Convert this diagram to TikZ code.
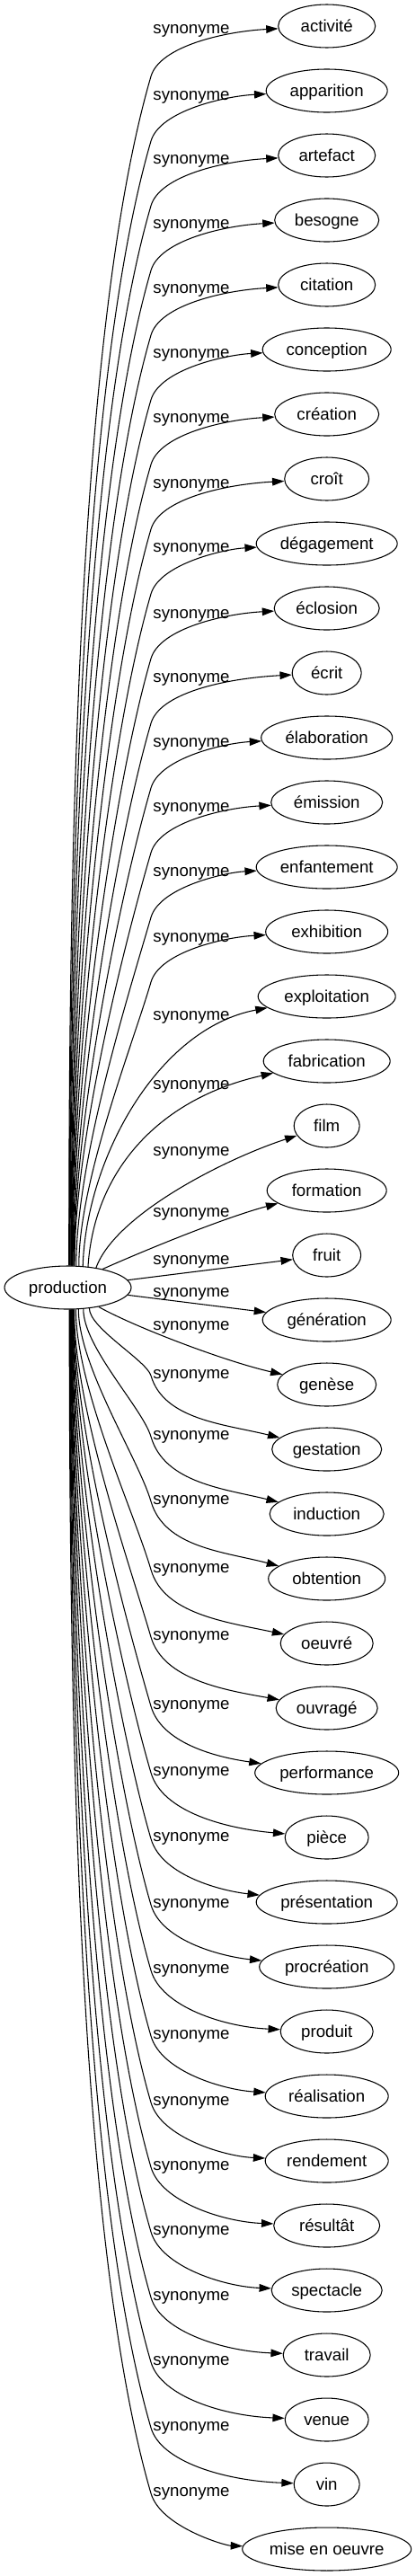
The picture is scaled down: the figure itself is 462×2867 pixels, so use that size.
\documentclass[tikz,border=0pt]{standalone}
\usepackage{fontspec}
\setmainfont{Liberation Sans}
\usetikzlibrary{arrows.meta,shapes.geometric}
\begin{document}
\begin{tikzpicture}[x=0.75pt,y=-0.75pt,
  tnode/.style={draw, ellipse, line width=0.8pt, inner sep=0pt, minimum height=36pt,
    text height=10pt, text depth=1pt, font=\fontsize{14}{16}\selectfont},
  lbl/.style={anchor=base, inner sep=0pt, font=\fontsize{14}{16}\selectfont},
  syn/.style={draw, line width=0.8pt, -{Triangle[length=10pt,width=6.5pt]}}]
\useasboundingbox (0,0) rectangle (462,2867);
\node[tnode, minimum width=105.75pt] (p) at (75.5,1433) {production};
\foreach \k/\txt/\w in {0/activité/108, 1/apparition/135, 2/artefact/108, 3/besogne/116,
  4/citation/108, 5/conception/143, 6/création/116, 7/croît/94, 8/dégagement/157,
  9/éclosion/117, 10/écrit/77, 11/élaboration/146, 12/émission/124, 13/enfantement/157,
  14/exhibition/136, 15/exploitation/153, 16/fabrication/141, 17/film/73, 18/formation/133,
  19/fruit/76, 20/génération/143, 21/genèse/110, 22/gestation/122, 23/induction/127,
  24/obtention/130, 25/oeuvré/103, 26/ouvragé/113, 27/performance/160, 28/pièce/93,
  29/présentation/157, 30/procréation/150, 31/produit/103, 32/réalisation/137,
  33/rendement/137, 34/résultât/118, 35/spectacle/123, 36/travail/97, 37/venue/93,
  38/vin/73, 39/mise en oeuvre/188}
  \node[tnode, minimum width=\w*0.75pt] (t\k) at (363.7,{29+72*\k}) {\txt};
% labels
\foreach \k/\lo in {0/3,1/5,2/4,3/4,4/4,5/4,6/4,7/5,8/4,9/6,10/5,11/5,12/5,13/5,14/6,
  15/21,16/26,17/28,18/24,19/5,20/-31,21/-66,22/-84,23/-88,24/-88,25/-84,26/-81,27/-76,
  28/-74,29/-72.5,30/-71,31/-70,32/-69,33/-67,34/-67,35/-67,36/-66,37/-66,38/-65,39/-64}
  \node[lbl] (l\k) at (213,{29+72*\k+\lo+5}) {synonyme};
% top edges (far)
\foreach \k/\dx in {0/1,1/1.5,2/2,3/2.5,4/3,5/3.5,6/4,7/4.5,8/5,9/5.5,10/6,11/6.5,12/7,13/9,14/12} {
  \pgfmathsetmacro\T{29+72*\k}
  \pgfmathsetmacro\sx{75.5+\dx}
  \pgfmathsetmacro\sy{1433-24*sqrt(1-(\dx/70.5)^2)}
  \pgfmathsetmacro\ang{atan2(24*sqrt(1-(\dx/70.5)^2),\dx)}
  \pgfmathsetmacro\qy{\T+56}
  \pgfmathsetmacro\D{\sy-\qy}
  \pgfmathsetmacro\ay{\sy-0.3*\D}
  \pgfmathsetmacro\bx{168-0.0644*\D}
  \pgfmathsetmacro\by{\qy+0.2208*\D}
  \pgfmathsetmacro\cx{168+0.175*56}
  \pgfmathsetmacro\cy{\qy-0.6*56}
  \pgfmathsetmacro\ey{\T+6}
  \path[syn] (p.\ang) .. controls (\sx,\ay) and (\bx,\by) .. (168,\qy)
     .. controls (\cx,\cy) and (250,\ey) .. (t\k);
}
% top edges (near)
\path[syn] (p.55.6) .. controls (96,1290) and (175,1145) .. (t15);
\path[syn] (p.46.0) .. controls (105,1300) and (180,1222) .. (t16);
\path[syn] (p.35.9) .. controls (128,1352) and (250,1290) .. (t17);
\path[syn] (p.28.9) .. controls (160,1392) and (250,1355) .. (t18);
\path[syn] (p) -- (t19);
\path[syn] (p) -- (t20);
\path[syn] (p.328.3) .. controls (150,1477) and (250,1515) .. (t21);
% bottom edges
\foreach \k/\dx/\lo/\s in {22/24/-84/28, 23/17/-88/28, 24/12/-88/30, 25/9/-84/24,
  26/7/-81/20, 27/6.6/-76/16, 28/6.2/-74/10, 29/5.8/-72.5/12, 30/5.4/-71/11, 31/5/-70/5,
  32/4.6/-69/7, 33/4.2/-67/5, 34/3.8/-67/4, 35/3.4/-67/4, 36/3/-66/4, 37/2.6/-66/4,
  38/2.2/-65/4, 39/1.8/-64/4} {
  \pgfmathsetmacro\T{29+72*\k}
  \pgfmathsetmacro\sx{75.5+\dx}
  \pgfmathsetmacro\sy{1433+24*sqrt(1-(\dx/70.5)^2)}
  \pgfmathsetmacro\ang{360+atan2(-24*sqrt(1-(\dx/70.5)^2),\dx)}
  \pgfmathsetmacro\qy{\T+\lo+2}
  \pgfmathsetmacro\D{\qy-\sy}
  \pgfmathsetmacro\ay{\sy+0.3*\D}
  \pgfmathsetmacro\bx{168-0.0644*\D}
  \pgfmathsetmacro\by{\qy-0.2208*\D}
  \pgfmathsetmacro\dT{\T-\qy}
  \pgfmathsetmacro\cx{168+0.175*\dT}
  \pgfmathsetmacro\cy{\qy+0.6*\dT}
  \pgfmathsetmacro\ey{\T-\s}
  \path[syn] (p.\ang) .. controls (\sx,\ay) and (\bx,\by) .. (168,\qy)
     .. controls (\cx,\cy) and (250,\ey) .. (t\k);
}
\end{tikzpicture}
\end{document}
